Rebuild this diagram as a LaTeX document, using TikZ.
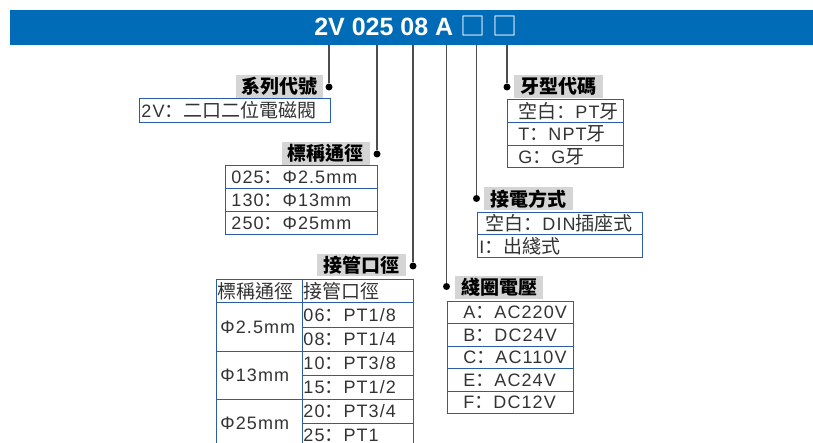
\documentclass[tikz,border=0pt]{standalone}
\usepackage{fontspec}
\setmainfont{Noto Sans CJK TC}
\newfontfamily\hdfont{Liberation Sans}
\newfontfamily\ltfont[LetterSpace=6]{Liberation Sans}
\newfontfamily\scfont{Noto Sans CJK SC}
\definecolor{bannerblue}{HTML}{006BB6}
\definecolor{boxblue}{HTML}{2A5CAA}
\definecolor{lblgray}{HTML}{D5D5D5}
\definecolor{leadgray}{HTML}{4D4D4D}
\newcommand\cellfont{\fontsize{19}{19}\selectfont}
\newcommand\lblfont{\fontsize{19}{19}\selectfont\bfseries}
\newcommand\latn[1]{{\ltfont\fontsize{18}{18}\selectfont #1}}
\newcommand\cln{{\scfont ：}}
\begin{document}
\begin{tikzpicture}[x=1pt,y=-1pt,
  cell/.style={draw=boxblue, line width=0.9pt, anchor=north west, inner ysep=0pt, align=left, font=\cellfont, text=black!80},
  lbl/.style={fill=lblgray, anchor=north west, inner sep=0pt, font=\lblfont},
  dotn/.style={circle, fill=black, inner sep=0pt, minimum size=7pt},
  lead/.style={draw=leadgray, line width=1.2pt}]
\useasboundingbox (0,0) rectangle (813,443);
% banner
\node[fill=bannerblue, anchor=north west, minimum width=803pt, minimum height=35pt, inner sep=0pt] (banner) at (10,10) {};
\node[anchor=base, text=white, inner sep=0pt, font=\fontsize{25}{25}\selectfont] (code) at (415.75,35.5) {{\hdfont\bfseries 2V 025 08 A}{\hdfont\ }□{\hdfont\ }□};
% tops of leads
\coordinate (t1) at (329,45);
\coordinate (t2) at (377,45);
\coordinate (t3) at (413,45);
\coordinate (t4) at (446.5,45);
\coordinate (t5) at (476.5,45);
\coordinate (t6) at (507,45);
% dots
\node[dotn] (d1) at (329,87) {};
\node[dotn] (d2) at (377,154) {};
\node[dotn] (d3) at (413,266) {};
\node[dotn] (d4) at (446.5,286.5) {};
\node[dotn] (d5) at (476.5,198.5) {};
\node[dotn] (d6) at (507,87) {};
\draw[lead] (t1) -- (d1);
\draw[lead] (t2) -- (d2);
\draw[lead] (t3) -- (d3);
\draw[lead] (t4) -- (d4);
\draw[lead] (t5) -- (d5);
\draw[lead] (t6) -- (d6);
% labels
\node[lbl, minimum width=87pt, minimum height=23pt] (L1) at (236,75) {系列代號};
\node[lbl, minimum width=87.5pt, minimum height=22.5pt] (L2) at (282,142) {標稱通徑};
\node[lbl, minimum width=89pt, minimum height=22pt] (L3) at (317,254) {接管口徑};
\node[lbl, minimum width=88pt, minimum height=23pt] (L4) at (455,276) {綫圈電壓};
\node[lbl, minimum width=89pt, minimum height=23pt] (L5) at (484,187) {接電方式};
\node[lbl, minimum width=89pt, minimum height=23pt] (L6) at (514,75) {牙型代碼};
% series
\node[cell, inner xsep=2pt, text width=187pt, minimum height=24pt] (s1) at (139,98) {\latn{2V}\cln 二口二位電磁閥};
% nominal bore
\node[cell, inner xsep=6pt, text width=140pt, minimum height=23pt] (n1) at (225,165) {\latn{025}\cln\latn{Φ2.5mm}};
\node[cell, inner xsep=6pt, text width=140pt, minimum height=23pt] (n2) at (225,188) {\latn{130}\cln\latn{Φ13mm}};
\node[cell, inner xsep=6pt, text width=140pt, minimum height=23pt] (n3) at (225,211) {\latn{250}\cln\latn{Φ25mm}};
% port size table
\node[cell, inner xsep=1pt, text width=84pt, minimum height=23.5pt] (p0a) at (216,279) {標稱通徑};
\node[cell, inner xsep=1pt, text width=109pt, minimum height=23.5pt] (p0b) at (302,279) {接管口徑};
\node[cell, inner xsep=4pt, text width=78pt, minimum height=48pt] (pa1) at (216,302.5) {\latn{Φ2.5mm}};
\node[cell, inner xsep=4pt, text width=78pt, minimum height=48pt] (pa2) at (216,350.5) {\latn{Φ13mm}};
\node[cell, inner xsep=4pt, text width=78pt, minimum height=48pt] (pa3) at (216,398.5) {\latn{Φ25mm}};
\node[cell, inner xsep=1pt, text width=109pt, minimum height=24pt] (pb1) at (302,302.5) {\latn{06}\cln\latn{PT1/8}};
\node[cell, inner xsep=1pt, text width=109pt, minimum height=24pt] (pb2) at (302,326.5) {\latn{08}\cln\latn{PT1/4}};
\node[cell, inner xsep=1pt, text width=109pt, minimum height=24pt] (pb3) at (302,350.5) {\latn{10}\cln\latn{PT3/8}};
\node[cell, inner xsep=1pt, text width=109pt, minimum height=24pt] (pb4) at (302,374.5) {\latn{15}\cln\latn{PT1/2}};
\node[cell, inner xsep=1pt, text width=109pt, minimum height=24pt] (pb5) at (302,398.5) {\latn{20}\cln\latn{PT3/4}};
\node[cell, inner xsep=1pt, text width=109pt, minimum height=24pt] (pb6) at (302,422.5) {\latn{25}\cln\latn{PT1}};
% coil voltage
\node[cell, inner xsep=16pt, text width=94pt, minimum height=22.5pt] (v1) at (447,300.7) {\latn{A}\cln\latn{AC220V}};
\node[cell, inner xsep=16pt, text width=94pt, minimum height=22.5pt] (v2) at (447,323.2) {\latn{B}\cln\latn{DC24V}};
\node[cell, inner xsep=16pt, text width=94pt, minimum height=22.5pt] (v3) at (447,345.7) {\latn{C}\cln\latn{AC110V}};
\node[cell, inner xsep=16pt, text width=94pt, minimum height=22.5pt] (v4) at (447,368.2) {\latn{E}\cln\latn{AC24V}};
\node[cell, inner xsep=16pt, text width=94pt, minimum height=22.5pt] (v5) at (447,390.7) {\latn{F}\cln\latn{DC12V}};
% connection
\node[cell, inner xsep=8pt, text width=149pt, minimum height=22.5pt] (c1) at (477,211.7) {空白\cln\latn{DIN}插座式};
\node[cell, inner xsep=2pt, text width=161pt, minimum height=22.5pt] (c2) at (477,234.2) {\latn{I}\cln 出綫式};
% thread
\node[cell, inner xsep=11pt, text width=94pt, minimum height=22.8pt] (g1) at (507,99) {空白\cln\latn{PT}牙};
\node[cell, inner xsep=11pt, text width=94pt, minimum height=22.8pt] (g2) at (507,121.8) {\latn{T}\cln\latn{NPT}牙};
\node[cell, inner xsep=11pt, text width=94pt, minimum height=22.8pt] (g3) at (507,144.6) {\latn{G}\cln\latn{G}牙};
\end{tikzpicture}
\end{document}
